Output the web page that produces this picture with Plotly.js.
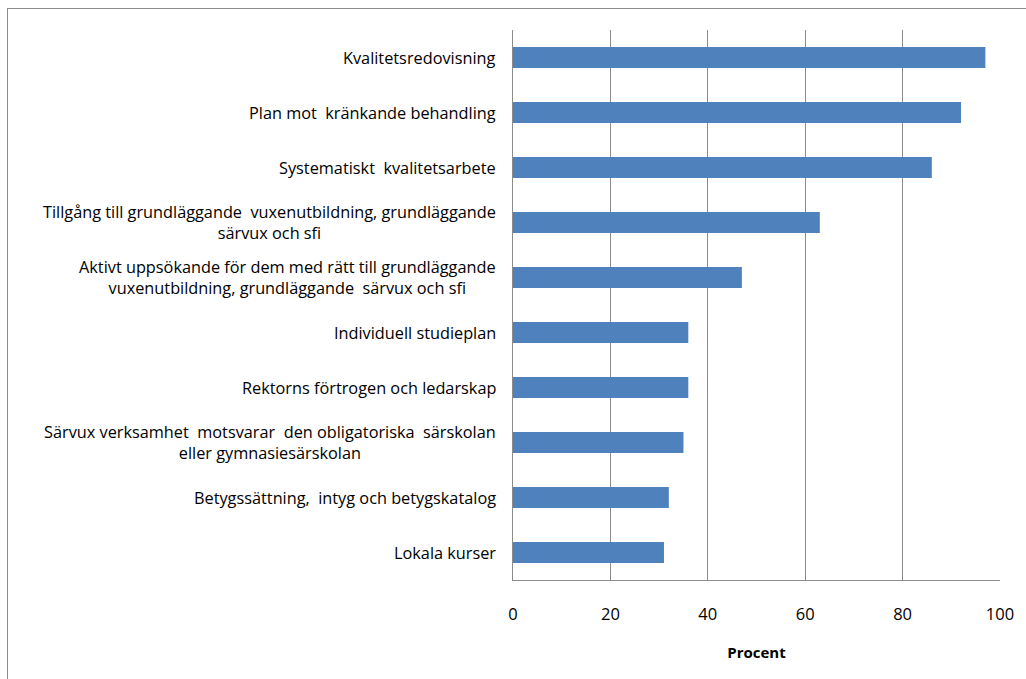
<!DOCTYPE html>
<html>
<head>
<meta charset="utf-8">
<script src="https://cdn.plot.ly/plotly-3.0.1.min.js"></script>
<style>
  html, body { margin: 0; padding: 0; background: #fff; overflow: hidden; }
  #wrap { position: relative; width: 1026px; height: 679px; }
  #chart { width: 1026px; height: 679px; }
  #frame { position: absolute; left: 7px; top: 8px; width: 1040px; height: 700px;
           border: 1px solid #8c8c8c; pointer-events: none; box-sizing: border-box; }
</style>
</head>
<body>
<div id="wrap">
  <div id="chart"></div>
  <div id="frame"></div>
</div>
<script>
const categories = [
  "Kvalitetsredovisning",
  "Plan mot  kränkande behandling",
  "Systematiskt  kvalitetsarbete",
  "Tillgång till grundläggande  vuxenutbildning, grundläggande<br>särvux och sfi",
  "Aktivt uppsökande för dem med rätt till grundläggande<br>vuxenutbildning, grundläggande  särvux och sfi",
  "Individuell studieplan",
  "Rektorns förtrogen och ledarskap",
  "Särvux verksamhet  motsvarar  den obligatoriska  särskolan<br>eller gymnasiesärskolan",
  "Betygssättning,  intyg och betygskatalog",
  "Lokala kurser"
];
const values = [97, 92, 86, 63, 47, 36, 36, 35, 32, 31];
const xTicks = [0, 20, 40, 60, 80, 100];
const xTitle = "Procent";

const fontFam = "'Open Sans', Lato, 'Liberation Sans', sans-serif";

const trace = {
  type: 'bar',
  orientation: 'h',
  y: categories,
  x: values,
  marker: { color: '#4f81bd', line: { width: 0 } },
  hoverinfo: 'none'
};

const annotations = categories.map(c => ({
  xref: 'paper', yref: 'y',
  x: -0.031, y: c,
  text: c,
  showarrow: false,
  xanchor: 'right', yanchor: 'middle',
  align: 'center',
  font: { family: fontFam, size: 16.3, color: '#000' }
}));

const layout = {
  width: 1026, height: 679,
  margin: { l: 513, r: 26, t: 30, b: 99 },
  paper_bgcolor: '#fff',
  plot_bgcolor: '#fff',
  showlegend: false,
  bargap: 0.62,
  font: { family: fontFam, size: 14, color: '#000' },
  xaxis: {
    range: [0, 100],
    tickvals: xTicks,
    ticktext: xTicks.map(String),
    ticks: '',
    showgrid: true,
    gridcolor: '#8c8c8c',
    gridwidth: 1,
    showline: true,
    linecolor: '#8c8c8c',
    linewidth: 1,
    zeroline: false,
    ticklabelstandoff: 19,
    tickfont: { family: fontFam, size: 16.5, color: '#000' },
    title: { text: '<b>' + xTitle + '</b>', standoff: 23,
             font: { family: fontFam, size: 15, color: '#000' } },
    fixedrange: true
  },
  yaxis: {
    type: 'category',
    autorange: 'reversed',
    showticklabels: false,
    ticks: '',
    showgrid: false,
    showline: true,
    linecolor: '#8c8c8c',
    linewidth: 1,
    zeroline: false,
    fixedrange: true
  },
  annotations: annotations
};

Plotly.newPlot('chart', [trace], layout, { staticPlot: true, displayModeBar: false });
</script>
</body>
</html>
